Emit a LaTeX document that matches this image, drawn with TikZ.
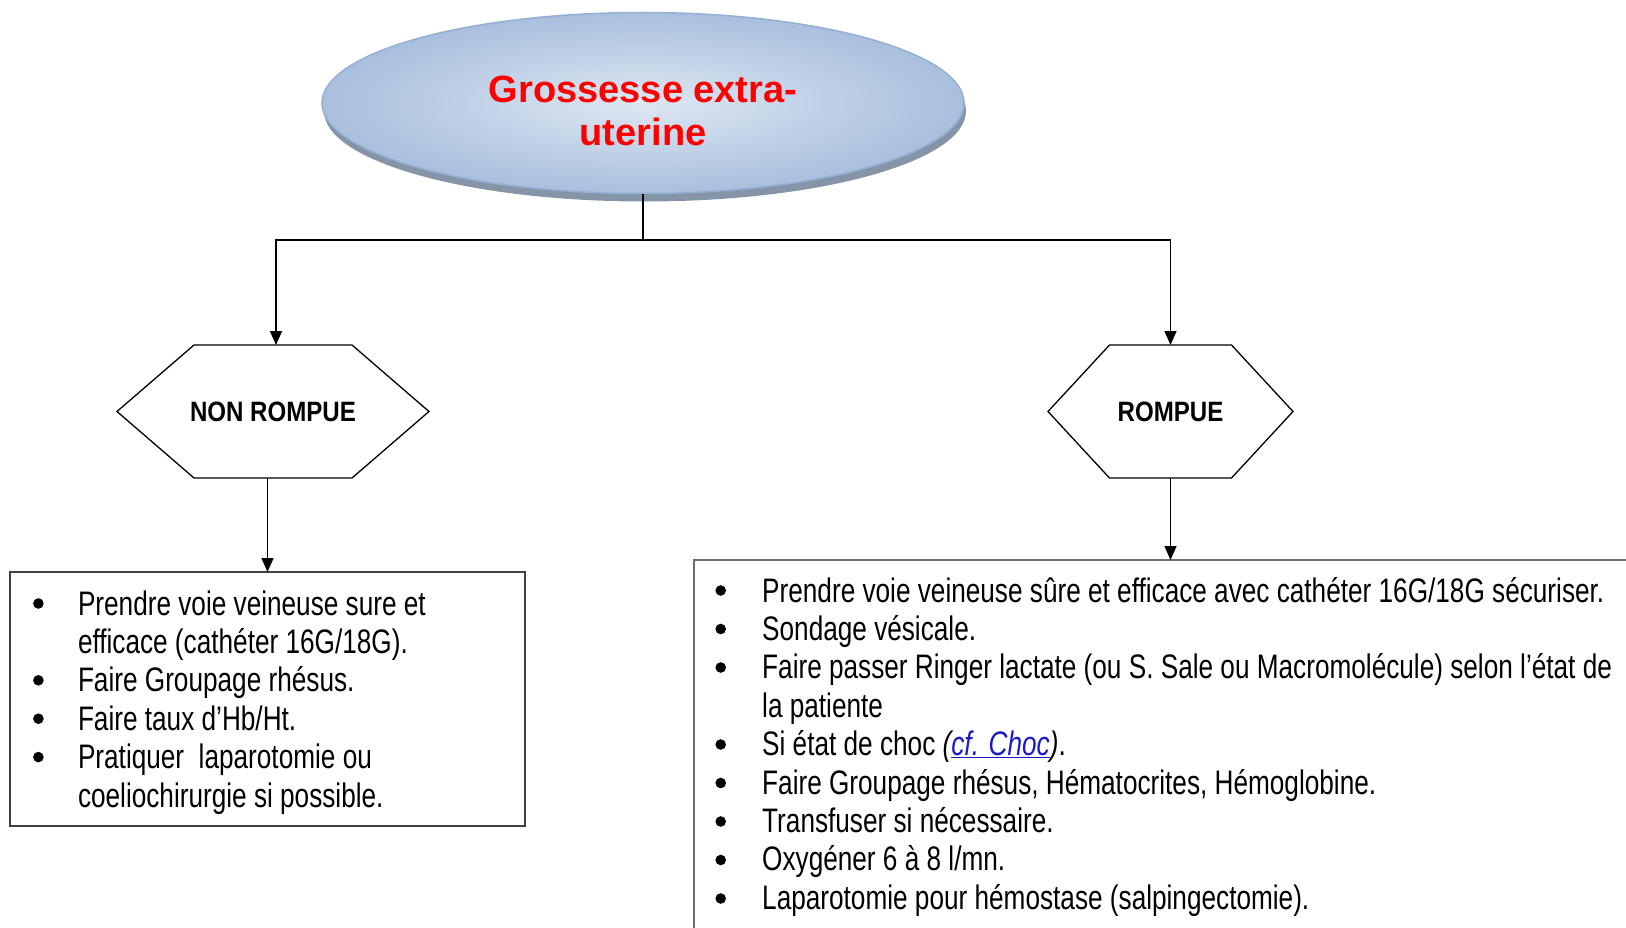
\documentclass[tikz,border=0pt]{standalone}
\usepackage{fontspec}
\setmainfont{Liberation Sans}
\newfontfamily\bodyfont[FakeStretch=0.77]{Liberation Sans}
\newfontfamily\hexfont[FakeStretch=0.86]{Liberation Sans}
\newfontfamily\titlefont{Liberation Sans}
\usetikzlibrary{arrows.meta,shapes.geometric,shadows}
\definecolor{ellin}{HTML}{DDE7F2}
\definecolor{ellout}{HTML}{A9BFDD}
\definecolor{ellborder}{HTML}{93AFD6}
\definecolor{ellshadow}{HTML}{8694A8}
\definecolor{titlered}{HTML}{FF0000}
\definecolor{boxgray}{HTML}{404040}
\definecolor{rboxgray}{HTML}{6E6E6E}
\definecolor{linkblue}{HTML}{1A1ACC}
\tikzset{
  conn/.style={draw=black, line width=1.4pt},
  arr/.style={conn, -{Triangle[length=14pt,width=12pt]}},
  hexlabel/.style={font=\hexfont\bfseries\fontsize{28}{30}\selectfont, minimum height=133pt, inner sep=0pt, outer sep=0pt},
  hexline/.style={draw=black, line width=1.3pt, line join=miter},
  boxnode/.style={rectangle, draw=boxgray, line width=1.2pt, inner sep=0pt, outer sep=0pt, anchor=north west},
  bodytext/.style={font=\bodyfont\fontsize{34}{38.4}\selectfont, inner sep=0pt, anchor=base west},
  bul/.style={fill=black}
}
\begin{document}
\begin{tikzpicture}[x=1pt,y=-1pt]
\useasboundingbox (0,0) rectangle (1626,928);
\clip (0,0) rectangle (1626,928);

% title ellipse
\node[ellipse, minimum width=642pt, minimum height=181pt, draw=ellborder, line width=1.5pt,
      inner color=ellin, outer color=ellout,
      drop shadow={shadow xshift=2pt, shadow yshift=-8pt, fill=ellshadow, opacity=1},
      font=\titlefont\bfseries\fontsize{38}{42.5}\selectfont, text=titlered]
  (title) at (643,103) {\raisebox{0pt}[0pt][0pt]{\begin{tabular}[t]{@{}c@{}}Grossesse extra-\\uterine\end{tabular}}};

% hexagons
\node[hexlabel, minimum width=312pt] (nr) at (273,411.5) {NON ROMPUE};
\draw[hexline] (nr.west) -- ([xshift=77pt]nr.north west) -- ([xshift=-77pt]nr.north east) -- (nr.east)
  -- ([xshift=-77pt]nr.south east) -- ([xshift=77pt]nr.south west) -- cycle;
\node[hexlabel, minimum width=245pt] (ro) at (1170.5,411.5) {ROMPUE};
\draw[hexline] (ro.west) -- ([xshift=61.5pt]ro.north west) -- ([xshift=-61.5pt]ro.north east) -- (ro.east)
  -- ([xshift=-61.5pt]ro.south east) -- ([xshift=61.5pt]ro.south west) -- cycle;

% boxes
\node[boxnode, minimum width=515pt, minimum height=254pt] (lbox) at (10,572) {};
\node[boxnode, draw=rboxgray, minimum width=1000pt, minimum height=420pt] (rbox) at (694,560) {};

% connectors
\coordinate (split) at (title.south |- 0,240);
\draw[conn] (title.south) -- (split);
\draw[arr] (split) -| ([xshift=3pt]nr.north);
\draw[arr] (split) -| (ro.north);
\draw[arr] (nr.south -| lbox.north) -- (lbox.north);
\draw[arr] (ro.south) -- (ro.south |- rbox.north);

% left text
\node[bodytext] (ltext) at (77.8,615) {\begin{tabular}[t]{@{}l@{}}
Prendre voie veineuse sure et\\
efficace (cathéter 16G/18G).\\
Faire Groupage rhésus.\\
Faire taux d’Hb/Ht.\\
Pratiquer\ \ laparotomie ou\\
coeliochirurgie si possible.
\end{tabular}};
\foreach \yy in {615,691.8,730.2,768.6} \fill[bul] (38.4,\yy-11.5) circle (5.3);

% right text
\node[bodytext] (rtext) at (762,602) {\begin{tabular}[t]{@{}l@{}}
Prendre voie veineuse sûre et efficace avec cathéter 16G/18G sécuriser.\\
Sondage vésicale.\\
Faire passer Ringer lactate (ou S. Sale ou Macromolécule) selon l’état de\\
la patiente\\
Si état de choc {\itshape(\textcolor{linkblue}{\underline{cf. Choc}})}.\\
Faire Groupage rhésus, Hématocrites, Hémoglobine.\\
Transfuser si nécessaire.\\
Oxygéner 6 à 8 l/mn.\\
Laparotomie pour hémostase (salpingectomie).
\end{tabular}};
\foreach \k in {0,1,2,4,5,6,7,8} \fill[bul] (720.7,602+38.5*\k-11.5) circle (5.3);
\end{tikzpicture}
\end{document}
